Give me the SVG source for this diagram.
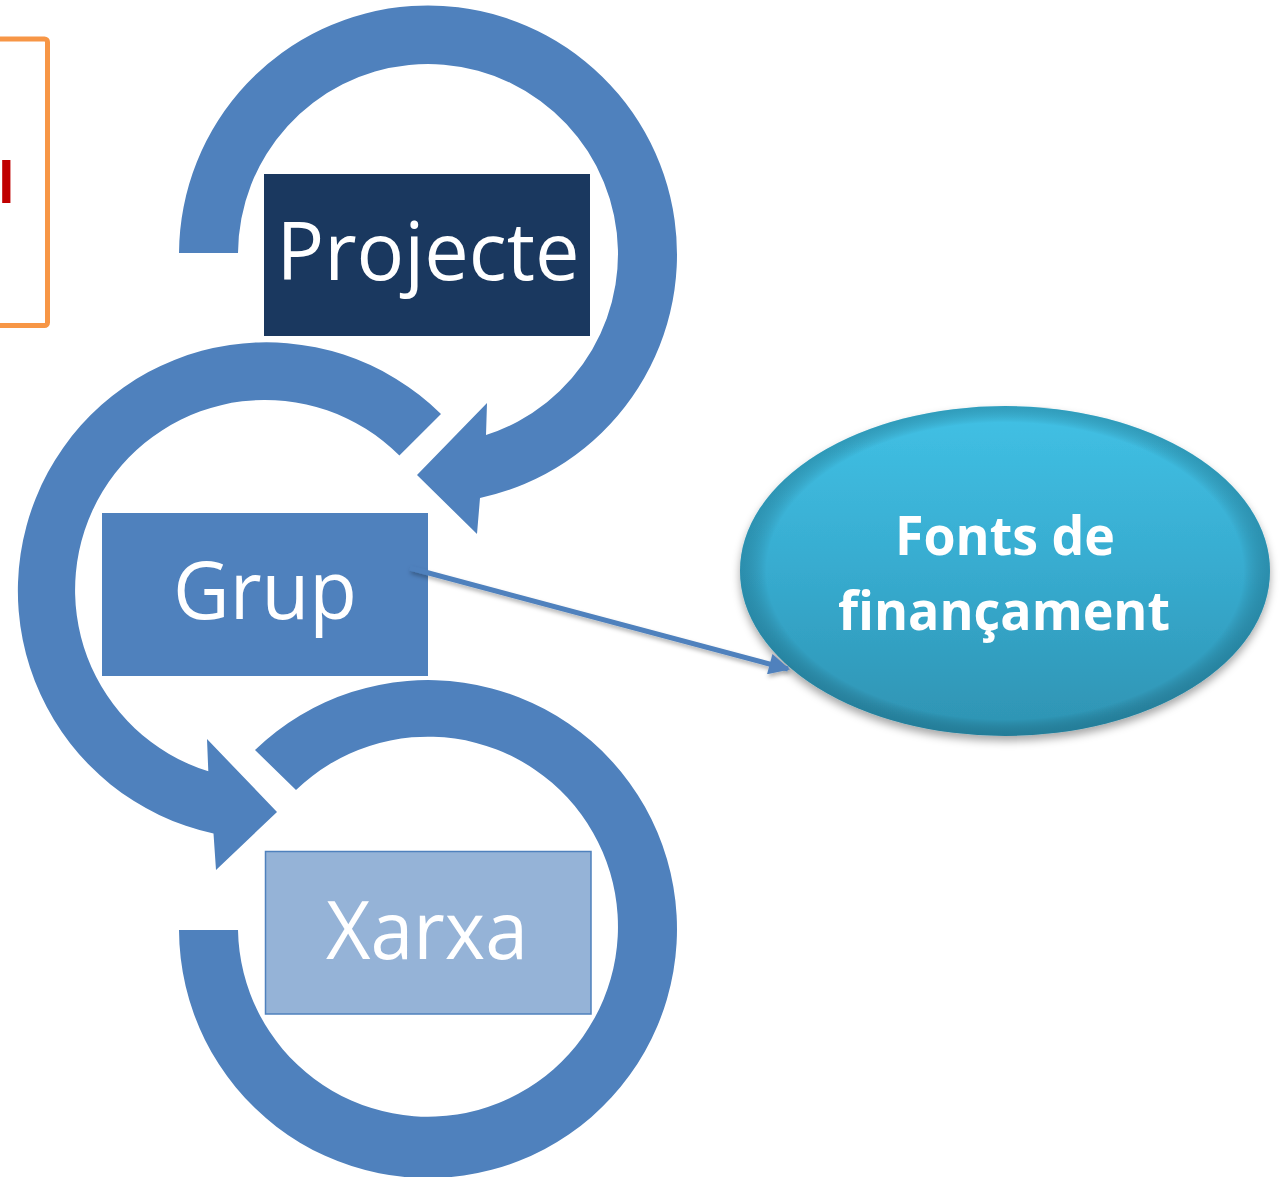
<svg xmlns="http://www.w3.org/2000/svg" width="1280" height="1177" viewBox="0 0 1280 1177">
<style>
.ring{fill:#4F81BD;}
.lbl{font-family:"Open Sans","Liberation Sans",sans-serif;font-size:80px;fill:#FFFFFF;text-anchor:middle;}
.blbl{font-family:"Open Sans","Liberation Sans",sans-serif;font-weight:bold;font-size:54px;fill:#FFFFFF;text-anchor:middle;}
.conn{stroke:#4F81BD;stroke-width:5;fill:none;}
</style>
<defs>
<linearGradient id="ellG" x1="0" y1="0" x2="0" y2="1">
<stop offset="0" stop-color="#41C1E5"/>
<stop offset="0.5" stop-color="#37ABCF"/>
<stop offset="1" stop-color="#2E93B2"/>
</linearGradient>
<radialGradient id="rim" cx="0.5" cy="0.5" r="0.5">
<stop offset="0.9" stop-color="#000000" stop-opacity="0"/>
<stop offset="1" stop-color="#0B4A5E" stop-opacity="0.3"/>
</radialGradient>
<filter id="shadow" x="-10%" y="-10%" width="120%" height="130%">
<feDropShadow dx="0" dy="5" stdDeviation="4" flood-color="#000000" flood-opacity="0.35"/>
</filter>
<filter id="lshadow" x="-5%" y="-20%" width="110%" height="150%">
<feDropShadow dx="1" dy="3" stdDeviation="2" flood-color="#000000" flood-opacity="0.3"/>
</filter>
<marker id="arr" viewBox="0 0 10 10" refX="9" refY="5" markerWidth="4.6" markerHeight="4.2" markerUnits="strokeWidth" orient="auto">
<path d="M0,0 L10,5 L0,10 Z" fill="#4F81BD"/>
</marker>
</defs>

<g id="side-box">
<rect x="-20" y="39" width="67.5" height="286.5" rx="3" fill="none" stroke="#F79646" stroke-width="5"/>
<text x="-2" y="203" font-family="'Liberation Sans',sans-serif" font-weight="bold" font-size="60" fill="#C00000">l</text>
</g>

<g id="ring-projecte">
<path class="ring" d="M179,253 A249,249 0 1 1 480,498 L477,534 L417,475 L487,403 L486,435 A190,190 0 1 0 238,253 Z"/>
</g>
<g id="ring-grup">
<path class="ring" d="M441,414 A248.5,248.5 0 1 0 213.5,833.6 L216,870 L277,812 L207,739 L208.3,771.3 A190,190 0 1 1 399.4,455.6 Z"/>
</g>
<g id="ring-xarxa">
<path class="ring" d="M255,750 A249,249 0 1 1 179,930 L238,930 A190,190 0 1 0 296,790 Z"/>
</g>

<g id="node-projecte">
<rect x="264" y="174" width="326" height="162" fill="#1A385F"/>
<text class="lbl" x="428" y="280" textLength="303" lengthAdjust="spacingAndGlyphs">Projecte</text>
</g>
<g id="node-grup">
<rect x="102" y="513" width="326" height="163" fill="#4F81BD"/>
<text class="lbl" x="265" y="619" textLength="184" lengthAdjust="spacingAndGlyphs">Grup</text>
</g>
<g id="node-xarxa">
<rect x="265.5" y="851.5" width="325.5" height="162.5" fill="#95B3D7" stroke="#4F81BD" stroke-width="1.5"/>
<text class="lbl" x="427" y="959" textLength="202" lengthAdjust="spacingAndGlyphs">Xarxa</text>
</g>

<g id="node-fonts">
<ellipse cx="1005" cy="571" rx="265" ry="165" fill="url(#ellG)" filter="url(#shadow)"/>
<ellipse cx="1005" cy="571" rx="265" ry="165" fill="url(#rim)"/>
<text class="blbl" x="1005" y="555" textLength="220" lengthAdjust="spacingAndGlyphs">Fonts de</text>
<text class="blbl" x="1004" y="630" textLength="332" lengthAdjust="spacingAndGlyphs">finançament</text>
</g>

<g id="connectors" filter="url(#lshadow)">
<line class="conn" x1="410" y1="568" x2="788" y2="669" marker-end="url(#arr)"/>
</g>
</svg>
